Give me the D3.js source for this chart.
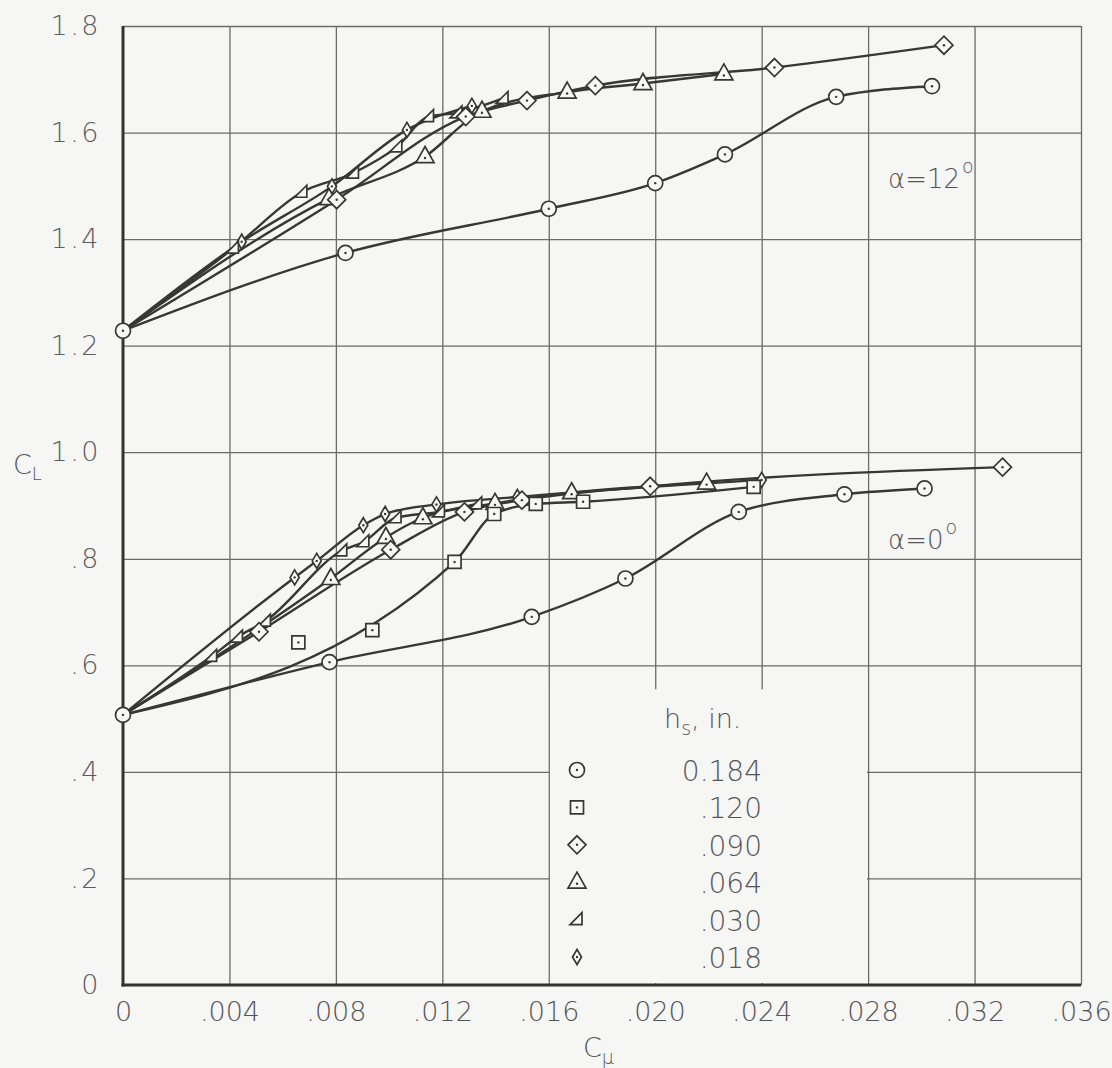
<!DOCTYPE html>
<html>
<head>
<meta charset="utf-8">
<script src="https://cdn.jsdelivr.net/npm/d3@7"></script>
<style>
  html, body { margin: 0; padding: 0; background: #f6f6f5; }
  svg { display: block; }
</style>
</head>
<body>
<svg id="chart" width="1112" height="1068"></svg>
<script>
// ---- axis ticks ----
const cmuTicks = [0, 0.004, 0.008, 0.012, 0.016, 0.020, 0.024, 0.028, 0.032, 0.036];
const cmuTickLabels = ["0", ".004", ".008", ".012", ".016", ".020", ".024", ".028", ".032", ".036"];
const clTicks = [0, 0.2, 0.4, 0.6, 0.8, 1.0, 1.2, 1.4, 1.6, 1.8];
const clTickLabels = ["0", ".2", ".4", ".6", ".8", "1.0", "1.2", "1.4", "1.6", "1.8"];

// ---- slot heights (legend) ----
const slotLabels = ["0.184", ".120", ".090", ".064", ".030", ".018"];
const slotMarkers = ["circle", "square", "diamond", "triangle", "flag", "narrowDiamond"];

// ---- lift with no blowing ----
const clZero12 = 1.228;
const clZero0 = 0.507;

// ---- alpha = 12 deg ----
const cmu12_184 = [0.00836, 0.0160, 0.0200, 0.02262, 0.0268, 0.0304];
const cl12_184  = [1.374, 1.457, 1.505, 1.559, 1.667, 1.687];
const cmu12_090 = [0.00803, 0.01288, 0.01518, 0.01775, 0.02448, 0.03085];
const cl12_090  = [1.474, 1.630, 1.660, 1.688, 1.722, 1.764];
const cmu12_064 = [0.00774, 0.01135, 0.01349, 0.01669, 0.01954, 0.02258];
const cl12_064  = [1.476, 1.555, 1.640, 1.676, 1.692, 1.710];
const cmu12_030 = [0.00415, 0.00672, 0.00866, 0.01029, 0.01148, 0.01255, 0.01428];
const cl12_030  = [1.383, 1.488, 1.524, 1.573, 1.630, 1.637, 1.664];
const cmu12_018 = [0.00446, 0.00785, 0.01067, 0.01311];
const cl12_018  = [1.395, 1.499, 1.605, 1.650];

// ---- alpha = 0 deg ----
const cmu0_184 = [0.00776, 0.01536, 0.01888, 0.02314, 0.02711, 0.03012];
const cl0_184  = [0.606, 0.691, 0.763, 0.888, 0.921, 0.932];
const cmu0_120 = [0.01246, 0.01395, 0.01551, 0.01729, 0.0237];
const cl0_120  = [0.794, 0.884, 0.903, 0.907, 0.935];
// points of the .120 run left off the faired curve
const cmu0_120_off = [0.00659, 0.00937];
const cl0_120_off  = [0.643, 0.666];
const cmu0_090 = [0.00511, 0.01006, 0.01283, 0.01499, 0.01981, 0.03305];
const cl0_090  = [0.663, 0.817, 0.888, 0.910, 0.936, 0.972];
const cmu0_064 = [0.00781, 0.00988, 0.01127, 0.01398, 0.01686, 0.02193];
const cl0_064  = [0.763, 0.840, 0.877, 0.904, 0.924, 0.942];
const cmu0_030 = [0.00333, 0.0043, 0.00535, 0.00822, 0.00905, 0.01026, 0.01189, 0.01329];
const cl0_030  = [0.617, 0.653, 0.683, 0.815, 0.832, 0.877, 0.888, 0.903];
const cmu0_018 = [0.00645, 0.00728, 0.00903, 0.00985, 0.01178, 0.01482, 0.0240];
const cl0_018  = [0.765, 0.796, 0.863, 0.884, 0.902, 0.916, 0.948];

const series = [
  { slot: 0, base: clZero12, cmu: cmu12_184, cl: cl12_184 },
  { slot: 2, base: clZero12, cmu: cmu12_090, cl: cl12_090 },
  { slot: 3, base: clZero12, cmu: cmu12_064, cl: cl12_064 },
  { slot: 4, base: clZero12, cmu: cmu12_030, cl: cl12_030 },
  { slot: 5, base: clZero12, cmu: cmu12_018, cl: cl12_018 },
  { slot: 0, base: clZero0, cmu: cmu0_184, cl: cl0_184 },
  { slot: 1, base: clZero0, cmu: cmu0_120, cl: cl0_120 },
  { slot: 2, base: clZero0, cmu: cmu0_090, cl: cl0_090 },
  { slot: 3, base: clZero0, cmu: cmu0_064, cl: cl0_064 },
  { slot: 4, base: clZero0, cmu: cmu0_030, cl: cl0_030 },
  { slot: 5, base: clZero0, cmu: cmu0_018, cl: cl0_018 }
];

// ---- layout ----
const plot = { left: 123, right: 1081, top: 26, bottom: 985 };
const ink = "#373737";
const gridInk = "#6b6b6b";
const textInk = "#555";
const letterFont = "'DejaVu Sans', sans-serif";

const svg = d3.select("#chart");
const x = d3.scaleLinear().domain([0, 0.036]).range([plot.left, plot.right]);
const y = d3.scaleLinear().domain([0, 1.8]).range([plot.bottom, plot.top]);

// grid
const gx = svg.append("g")
  .attr("transform", `translate(0,${plot.bottom})`)
  .call(d3.axisBottom(x).tickValues(cmuTicks.slice(1)).tickSize(-(plot.bottom - plot.top)).tickFormat(""));
gx.select(".domain").remove();
gx.selectAll("line").attr("stroke", gridInk).attr("stroke-width", 1.3);

const gy = svg.append("g")
  .attr("transform", `translate(${plot.left},0)`)
  .call(d3.axisLeft(y).tickValues(clTicks.slice(1)).tickSize(-(plot.right - plot.left)).tickFormat(""));
gy.select(".domain").remove();
gy.selectAll("line").attr("stroke", gridInk).attr("stroke-width", 1.3);

// blank panel under the key
svg.append("rect")
  .attr("x", x(0.016) + 1.2).attr("y", y(0.555))
  .attr("width", x(0.028) - x(0.016) - 2.4).attr("height", y(0) - y(0.555) - 2)
  .attr("fill", "#f6f6f5");

// axes lines
svg.append("line")
  .attr("x1", plot.left).attr("x2", plot.left).attr("y1", plot.top).attr("y2", plot.bottom + 1.5)
  .attr("stroke", "#333").attr("stroke-width", 3);
svg.append("line")
  .attr("x1", plot.left - 1.5).attr("x2", plot.right).attr("y1", plot.bottom).attr("y2", plot.bottom)
  .attr("stroke", "#333").attr("stroke-width", 3.2);

// tick labels
const ax = svg.append("g")
  .attr("transform", `translate(0,${plot.bottom})`)
  .call(d3.axisBottom(x).tickValues(cmuTicks).tickSize(0).tickPadding(17)
    .tickFormat((d, i) => cmuTickLabels[i]));
ax.select(".domain").remove();
ax.selectAll("text").attr("font-family", letterFont).attr("font-weight", 200)
  .attr("font-size", 27).attr("fill", textInk);

const ay = svg.append("g")
  .attr("transform", `translate(${plot.left},0)`)
  .call(d3.axisLeft(y).tickValues(clTicks).tickSize(0).tickPadding(22)
    .tickFormat((d, i) => clTickLabels[i]));
ay.select(".domain").remove();
ay.selectAll("text").attr("font-family", letterFont).attr("font-weight", 200)
  .attr("font-size", 27).attr("letter-spacing", 2.5).attr("fill", "#5c5c5c");

// axis titles
const yTitle = svg.append("text").attr("x", 13).attr("y", 474)
  .attr("font-family", letterFont).attr("font-weight", 200).attr("font-size", 27).attr("fill", textInk);
yTitle.append("tspan").text("C");
yTitle.append("tspan").attr("font-size", 18).attr("dy", 6).text("L");

const xTitle = svg.append("text").attr("x", 583).attr("y", 1057)
  .attr("font-family", letterFont).attr("font-weight", 200).attr("font-size", 27).attr("fill", textInk);
xTitle.append("tspan").text("C");
xTitle.append("tspan").attr("font-size", 19).attr("dy", 7).text("μ");

// ---- marker shapes ----
const markerShapes = {
  circle: "M7.5,0A7.5,7.5 0 1,1 -7.5,0A7.5,7.5 0 1,1 7.5,0Z",
  square: "M-6.5,-6.5H6.5V6.5H-6.5Z",
  diamond: "M0,-9L9,0L0,9L-9,0Z",
  triangle: "M0,-10L9,6L-9,6Z",
  flag: "M5,-7L5,5L-7,5Z",
  narrowDiamond: "M0,-7.5L4.5,0L0,7.5L-4.5,0Z"
};
const dotOffset = { circle: 0, square: 0, diamond: 0, triangle: 1.5, flag: null, narrowDiamond: 0 };

function drawMarker(g, kind, px, py) {
  const m = g.append("g").attr("transform", `translate(${px},${py})`);
  m.append("path").attr("d", markerShapes[kind])
    .attr("fill", "#f8f8f7").attr("stroke", ink).attr("stroke-width", 1.7);
  if (dotOffset[kind] !== null) {
    m.append("circle").attr("cx", 0).attr("cy", dotOffset[kind]).attr("r", 1.2).attr("fill", ink);
  }
}

// ---- curves ----
const line = d3.line().x(d => x(d[0])).y(d => y(d[1])).curve(d3.curveMonotoneX);
const curves = svg.append("g");
series.forEach(s => {
  const pts = [[0, s.base]].concat(s.cmu.map((c, i) => [c, s.cl[i]]));
  curves.append("path").attr("d", line(pts))
    .attr("fill", "none").attr("stroke", ink).attr("stroke-width", 2.4)
    .attr("stroke-linejoin", "round");
});

// ---- markers ----
const marks = svg.append("g");
series.slice().reverse().forEach(s => {
  s.cmu.forEach((c, i) => drawMarker(marks, slotMarkers[s.slot], x(c), y(s.cl[i])));
});
cmu0_120_off.forEach((c, i) => drawMarker(marks, slotMarkers[1], x(c), y(cl0_120_off[i])));
drawMarker(marks, "circle", x(0), y(clZero12));
drawMarker(marks, "circle", x(0), y(clZero0));

// ---- angle labels ----
function angleLabel(px, py, txt) {
  const t = svg.append("text").attr("x", px).attr("y", py)
    .attr("font-family", letterFont).attr("font-weight", 200).attr("font-size", 26).attr("fill", textInk);
  t.append("tspan").text(txt);
  t.append("tspan").attr("font-size", 19).attr("dy", -15).attr("dx", 2).text("o");
}
angleLabel(888, 188, "α=12");
angleLabel(888, 549, "α=0");

// ---- key ----
const key = svg.append("g");
const keyTitle = key.append("text").attr("x", 664).attr("y", 728)
  .attr("font-family", letterFont).attr("font-weight", 200).attr("font-size", 27).attr("fill", textInk);
keyTitle.append("tspan").text("h");
keyTitle.append("tspan").attr("font-size", 19).attr("dy", 7).text("s");
keyTitle.append("tspan").attr("dy", -7).text(", in.");

const keyRow = d3.scaleLinear().domain([0, 5]).range([770, 957]);
slotLabels.forEach((lab, i) => {
  drawMarker(key, slotMarkers[i], 577, keyRow(i));
  key.append("text").attr("x", 762).attr("y", keyRow(i) + 11)
    .attr("text-anchor", "end")
    .attr("font-family", letterFont).attr("font-weight", 200).attr("font-size", 28)
    .attr("fill", textInk).text(lab);
});
</script>
</body>
</html>
